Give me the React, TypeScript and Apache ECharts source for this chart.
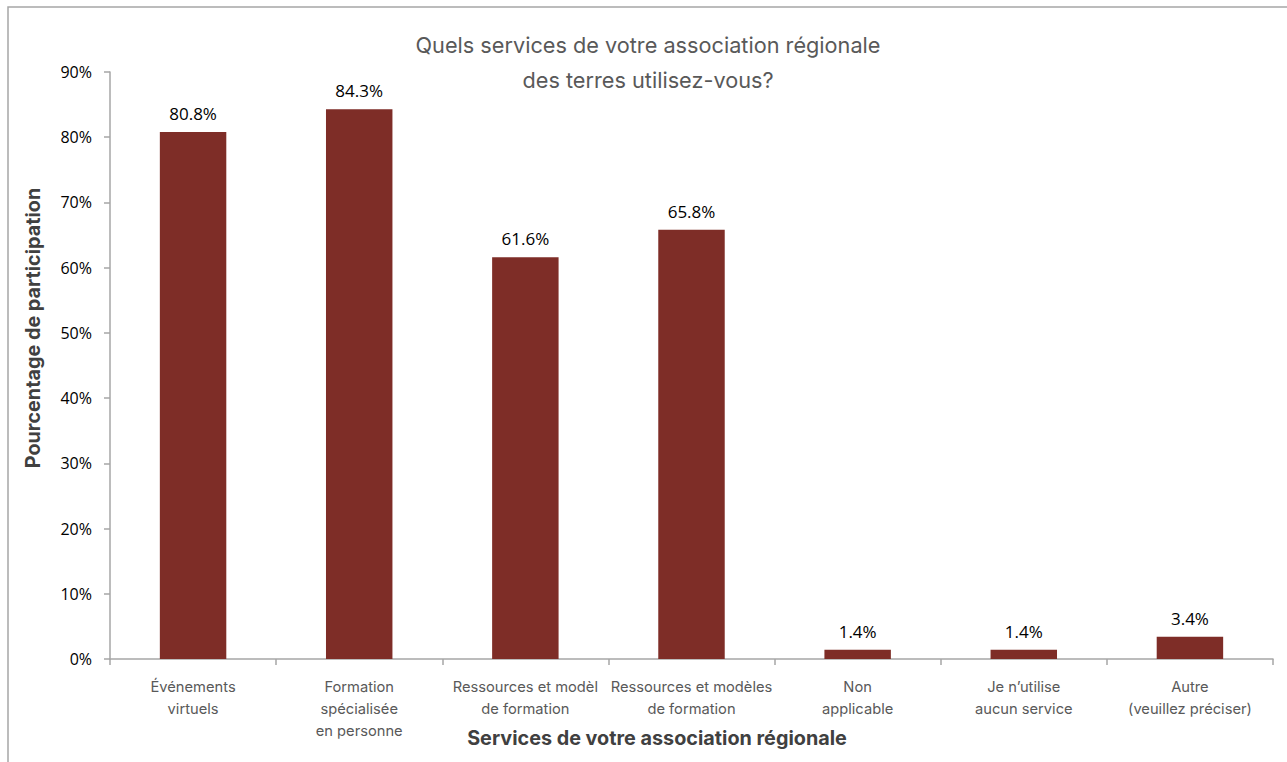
import React, { useEffect, useRef } from "react";
import * as echarts from "echarts";

const categories = [
  "Événements\nvirtuels",
  "Formation\nspécialisée\nen personne",
  "Ressources et modèl\nde formation",
  "Ressources et modèles\nde formation",
  "Non\napplicable",
  "Je n’utilise\naucun service",
  "Autre\n(veuillez préciser)",
];
const values = [80.8, 84.3, 61.6, 65.8, 1.4, 1.4, 3.4];
const titleLines = ["Quels services de votre association régionale", "des terres utilisez-vous?"];
const xAxisTitle = "Services de votre association régionale";
const yAxisTitle = "Pourcentage de participation";

export default function App() {
  const ref = useRef<HTMLDivElement>(null);
  useEffect(() => {
    if (!ref.current) return;
    const chart = echarts.init(ref.current, null, { renderer: "svg" });
    chart.setOption({
      animation: false,
      backgroundColor: "#ffffff",
      textStyle: { fontFamily: "Open Sans" },
      grid: { left: 110, right: 14, top: 72, bottom: 103 },
      graphic: [
        {
          type: "rect",
          shape: { x: 8, y: 7, width: 1300, height: 800 },
          style: { fill: "none", stroke: "#a6a6a6", lineWidth: 1.5 },
          silent: true,
        },
        {
          type: "text",
          x: 648,
          y: 45,
          style: {
            text: titleLines[0],
            fill: "#595959",
            font: "21.7px Inter",
            align: "center",
            verticalAlign: "middle",
          },
        },
        {
          type: "text",
          x: 648,
          y: 80,
          style: {
            text: titleLines[1],
            fill: "#595959",
            font: "21.7px Inter",
            align: "center",
            verticalAlign: "middle",
          },
        },
        {
          type: "text",
          x: 657,
          y: 738,
          style: {
            text: xAxisTitle,
            fill: "#404040",
            font: "bold 19.8px Inter",
            align: "center",
            verticalAlign: "middle",
          },
        },
        {
          type: "text",
          x: 33,
          y: 328,
          rotation: Math.PI / 2,
          style: {
            text: yAxisTitle,
            fill: "#404040",
            font: "bold 19.8px Inter",
            align: "center",
            verticalAlign: "middle",
          },
        },
      ],
      xAxis: {
        type: "category",
        data: categories,
        axisLine: { lineStyle: { color: "#a6a6a6", width: 1.5 } },
        axisTick: { show: true, length: 6, lineStyle: { color: "#a6a6a6", width: 1.5 } },
        axisLabel: {
          color: "#595959",
          fontSize: 14.7,
          fontFamily: "Inter",
          lineHeight: 22,
          margin: 17,
          interval: 0,
        },
      },
      yAxis: {
        type: "value",
        min: 0,
        max: 90,
        interval: 10,
        axisLine: { show: true, lineStyle: { color: "#a6a6a6", width: 1.5 } },
        axisTick: { show: true, length: 6, lineStyle: { color: "#a6a6a6", width: 1.5 } },
        splitLine: { show: false },
        axisLabel: {
          color: "#000000",
          fontSize: 16,
          margin: 18,
          formatter: (v: number) => v + "%",
        },
      },
      series: [
        {
          type: "bar",
          data: values,
          barWidth: "40%",
          itemStyle: { color: "#7e2d27" },
          label: {
            show: true,
            position: "top",
            distance: 10,
            color: "#000000",
            fontSize: 17,
            formatter: (p: any) => p.value.toFixed(1) + "%",
          },
        },
      ],
    });
    return () => chart.dispose();
  }, []);
  return (
    <div
      ref={ref}
      style={{ position: "absolute", left: 0, top: 0, width: 1287, height: 762 }}
    />
  );
}
